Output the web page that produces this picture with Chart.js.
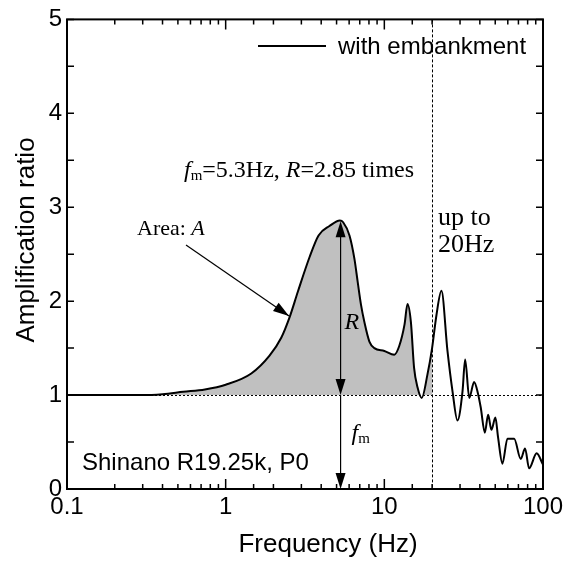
<!DOCTYPE html>
<html><head><meta charset="utf-8">
<script src="https://cdn.jsdelivr.net/npm/chart.js@4.4.1/dist/chart.umd.min.js"></script>
<style>html,body{margin:0;padding:0;background:#fff}#wrap{width:573px;height:561px}</style>
</head><body><div id="wrap"><canvas id="c" width="573" height="561"></canvas></div>
<script>
// ---- data ----
const freq = [0.1, 0.2, 0.3, 0.4, 0.54, 0.74, 1.0, 1.45, 1.89, 2.24, 2.53, 2.85, 3.38, 3.85, 4.51, 5.25, 5.5, 6.03, 6.48, 6.8, 7.13, 7.48, 8.05, 8.65, 10.0, 11.55, 12.4, 13.4, 14.0, 14.7, 15.4, 16.2, 17.2, 18.7, 20.0, 21.3, 22.9, 25.0, 26.9, 28.9, 31.1, 32.3, 34.3, 36.8, 39.0, 40.5, 43.0, 45.1, 47.3, 50.1, 52.1, 55.5, 59.7, 65.8, 72.4, 77.1, 81.7, 91.2, 100];
const amp  = [1.0, 1.0, 1.0, 1.01, 1.035, 1.06, 1.11, 1.23, 1.42, 1.61, 1.83, 2.10, 2.47, 2.70, 2.80, 2.86, 2.84, 2.70, 2.45, 2.20, 1.96, 1.78, 1.57, 1.50, 1.47, 1.43, 1.52, 1.75, 1.97, 1.78, 1.29, 1.08, 0.97, 1.22, 1.50, 1.85, 2.11, 1.47, 1.04, 0.73, 1.04, 1.38, 0.97, 1.14, 1.01, 0.87, 0.60, 0.79, 0.63, 0.76, 0.55, 0.27, 0.535, 0.535, 0.32, 0.43, 0.22, 0.38, 0.26];
const xTickLabels = [0.1, 1, 10, 100];
const yTickLabels = [0, 1, 2, 3, 4, 5];
const seriesLabel = 'with embankment';
const fillLimit = 20;      // shaded up to 20 Hz
const baseLevel = 1;       // amplification ratio 1
const peakFreq = 5.3;      // f_m
const peakRatio = 2.85;    // R
const xTitle = 'Frequency (Hz)';
const yTitle = 'Amplification ratio';

const SANS = '"Liberation Sans", Arial, Helvetica, sans-serif';
const SERIF = '"Liberation Serif", "Times New Roman", Times, serif';

const pts = freq.map((f, i) => ({x: f, y: amp[i]}));
const fillPts = pts.filter(p => p.x <= fillLimit);

function arrowHead(ctx, x1, y1, x2, y2, len, half) {
  const ang = Math.atan2(y2 - y1, x2 - x1);
  ctx.beginPath();
  ctx.moveTo(x2, y2);
  ctx.lineTo(x2 - len * Math.cos(ang) + half * Math.sin(ang), y2 - len * Math.sin(ang) - half * Math.cos(ang));
  ctx.lineTo(x2 - len * Math.cos(ang) - half * Math.sin(ang), y2 - len * Math.sin(ang) + half * Math.cos(ang));
  ctx.closePath();
  ctx.fill();
}
function runs(ctx, x, y, parts) {
  let cx = x;
  for (const p of parts) {
    ctx.font = p.font;
    ctx.fillText(p.t, cx, y + (p.dy || 0));
    cx += ctx.measureText(p.t).width + (p.gap || 0);
  }
}

const deco = {
  id: 'deco',
  afterDatasetsDraw(chart) {
    const {ctx, chartArea: a, scales: {x, y}} = chart;
    ctx.save();
    ctx.strokeStyle = '#000'; ctx.fillStyle = '#000';
    // reference lines
    ctx.lineWidth = 1;
    const y1 = Math.round(y.getPixelForValue(baseLevel)) + 0.5;
    ctx.setLineDash([2, 2]);
    ctx.beginPath(); ctx.moveTo(a.left, y1); ctx.lineTo(a.right, y1); ctx.stroke();
    const x20 = Math.round(x.getPixelForValue(fillLimit)) + 0.5;
    ctx.setLineDash([3, 2]);
    ctx.beginPath(); ctx.moveTo(x20, a.top); ctx.lineTo(x20, a.bottom); ctx.stroke();
    ctx.setLineDash([]);

    // frame
    ctx.lineWidth = 2;
    ctx.strokeRect(a.left, a.top, a.right - a.left, a.bottom - a.top);
    // inward ticks, x
    ctx.lineWidth = 1.5;
    for (const t of x.ticks) {
      const v = t.value;
      const lg = Math.log10(v);
      const major = Math.abs(lg - Math.round(lg)) < 1e-6;
      const px = x.getPixelForValue(v);
      const L = major ? 10 : 5;
      ctx.beginPath();
      ctx.moveTo(px, a.bottom); ctx.lineTo(px, a.bottom - L);
      ctx.moveTo(px, a.top); ctx.lineTo(px, a.top + L);
      ctx.stroke();
    }
    // inward ticks, y (every 0.5)
    for (let k = 0; k <= 10; k++) {
      const py = y.getPixelForValue(k * 0.5);
      ctx.beginPath();
      ctx.moveTo(a.left, py); ctx.lineTo(a.left + 7, py);
      ctx.moveTo(a.right, py); ctx.lineTo(a.right - 7, py);
      ctx.stroke();
    }

    // legend
    ctx.lineWidth = 2;
    ctx.beginPath(); ctx.moveTo(258, 46); ctx.lineTo(326, 46); ctx.stroke();
    ctx.font = '24px ' + SANS; ctx.textBaseline = 'alphabetic'; ctx.textAlign = 'left';
    ctx.fillText(seriesLabel, 338, 54);

    // axis titles
    ctx.font = '26px ' + SANS; ctx.textAlign = 'center';
    ctx.fillText(xTitle, 328, 552);
    ctx.save();
    ctx.translate(34, 240); ctx.rotate(-Math.PI / 2);
    ctx.fillText(yTitle, 0, 0);
    ctx.restore();

    // station label
    ctx.textAlign = 'left';
    ctx.font = '24px ' + SANS;
    ctx.fillText('Shinano R19.25k, P0', 82, 470);

    // f_m / R annotation text
    runs(ctx, 184, 177, [
      {t: 'f', font: 'italic 24px ' + SERIF},
      {t: 'm', font: '15px ' + SERIF, dy: 3},
      {t: '=5.3Hz, ', font: '24px ' + SERIF},
      {t: 'R', font: 'italic 24px ' + SERIF},
      {t: '=2.85 times', font: '24px ' + SERIF}
    ]);
    runs(ctx, 137, 235, [
      {t: 'Area: ', font: '22px ' + SERIF},
      {t: 'A', font: 'italic 22px ' + SERIF}
    ]);
    ctx.font = '26px ' + SERIF;
    ctx.fillText('up to', 438, 225);
    ctx.fillText('20Hz', 438, 252);

    // Area arrow
    ctx.lineWidth = 1.2;
    ctx.beginPath(); ctx.moveTo(186, 245); ctx.lineTo(289, 316); ctx.stroke();
    arrowHead(ctx, 186, 245, 289, 316, 16, 5);

    // R double arrow and f_m arrow
    const xm = x.getPixelForValue(peakFreq);
    const yR = y.getPixelForValue(peakRatio);
    const y0 = y.getPixelForValue(0);
    const yb = y.getPixelForValue(baseLevel);
    ctx.beginPath(); ctx.moveTo(xm, yR + 10); ctx.lineTo(xm, yb - 10); ctx.stroke();
    arrowHead(ctx, xm, yb, xm, yR, 16, 5);
    arrowHead(ctx, xm, yR, xm, yb, 16, 5);
    ctx.beginPath(); ctx.moveTo(xm, yb); ctx.lineTo(xm, y0 - 10); ctx.stroke();
    arrowHead(ctx, xm, yb, xm, y0, 16, 5);
    runs(ctx, xm + 4, 329, [{t: 'R', font: 'italic 24px ' + SERIF}]);
    runs(ctx, xm + 11, 440, [
      {t: 'f', font: 'italic 24px ' + SERIF},
      {t: 'm', font: '15px ' + SERIF, dy: 3}
    ]);
    ctx.restore();
  }
};

new Chart(document.getElementById('c'), {
  type: 'line',
  data: {
    datasets: [
      {label: seriesLabel, data: pts, borderColor: '#000', borderWidth: 2, pointRadius: 0,
       fill: false, cubicInterpolationMode: 'monotone'},
      {label: 'area', data: fillPts, borderWidth: 0, borderColor: 'rgba(0,0,0,0)', pointRadius: 0,
       cubicInterpolationMode: 'monotone',
       fill: {target: {value: baseLevel}, above: '#c0c0c0', below: 'rgba(0,0,0,0)'}}
    ]
  },
  options: {
    responsive: false, animation: false, devicePixelRatio: 1,
    layout: {padding: {top: 15, right: 30, left: 0, bottom: 0}},
    plugins: {legend: {display: false}, tooltip: {enabled: false}},
    scales: {
      x: {
        type: 'logarithmic', min: 0.1, max: 100,
        grid: {display: false, drawTicks: false}, border: {display: false},
        afterFit: s => { s.height = 72; },
        ticks: {
          autoSkip: false, maxRotation: 0, padding: 4, color: '#000',
          font: {family: SANS, size: 24},
          callback: v => xTickLabels.some(t => Math.abs(t - v) < 1e-9) ? String(v) : ''
        }
      },
      y: {
        min: 0, max: 5,
        grid: {display: false, drawTicks: false}, border: {display: false},
        afterFit: s => { s.width = 67; },
        ticks: {
          stepSize: 1, padding: 5, color: '#000',
          font: {family: SANS, size: 24},
          callback: v => yTickLabels.includes(v) ? String(v) : ''
        }
      }
    }
  },
  plugins: [deco]
});
</script>
</body></html>
